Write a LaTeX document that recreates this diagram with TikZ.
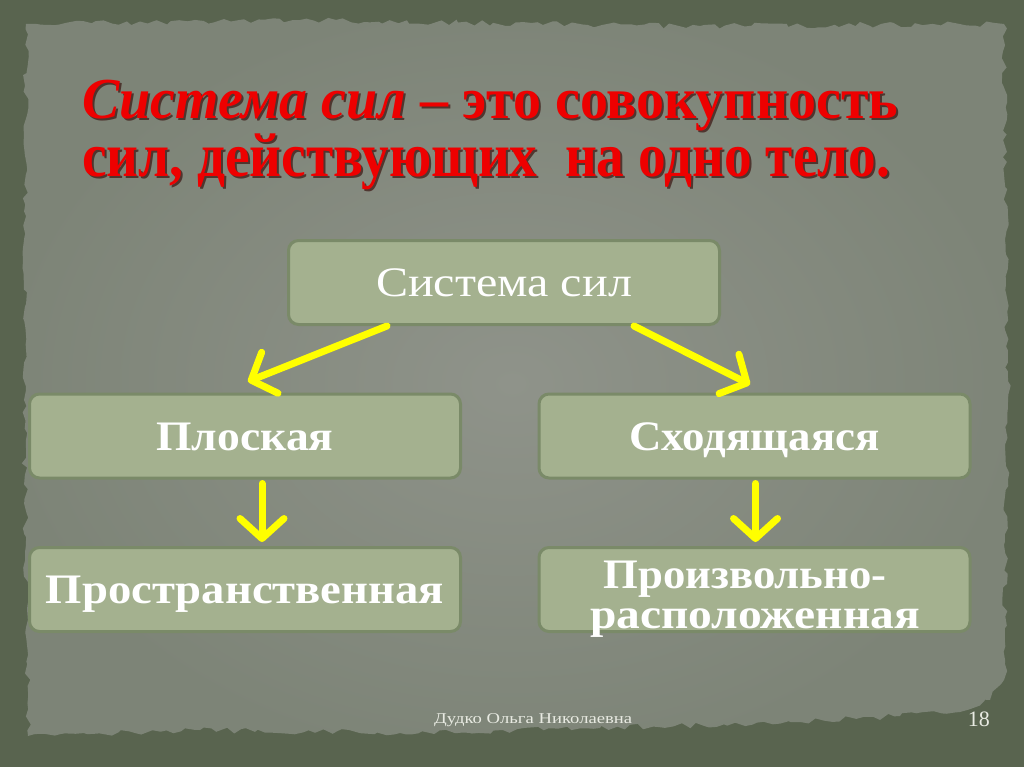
\documentclass[tikz,border=0pt]{standalone}
\usepackage{fontspec}
\usepackage{graphicx}
\setmainfont{Liberation Serif}
\usetikzlibrary{arrows.meta,decorations.pathmorphing}
\definecolor{outerbg}{HTML}{59644F}
\definecolor{paperc}{HTML}{8F938A}
\definecolor{paperd}{HTML}{7D8477}
\definecolor{boxfill}{HTML}{A4B18F}
\definecolor{boxline}{HTML}{7A8A68}
\definecolor{ttl}{HTML}{EE0000}
\definecolor{ttlshadow}{HTML}{3A1410}
\definecolor{arrowy}{HTML}{FFFF00}
\definecolor{foot}{HTML}{E8EAE2}
\newcommand{\fitw}[2]{\resizebox{#1}{\height}{#2}}
\begin{document}
\begin{tikzpicture}[x=1pt,y=-1pt,
  box/.style={rounded corners=10pt, fill=boxfill, draw=boxline, line width=3pt,
    minimum width=431pt, minimum height=84pt, inner sep=0pt, text=white,
    text height=31pt, text depth=3pt},
  boxtext/.style={font=\fontsize{42}{44}\selectfont\bfseries},
  yarrow/.style={draw=arrowy, line width=7pt, line cap=round,
    -{Straight Barb[round, length=20pt, width=44pt, line width=7pt]}},
  titletext/.style={anchor=base west, inner sep=0pt, text=ttl},
  titleshadow/.style={anchor=base west, inner sep=0pt, text=ttlshadow, opacity=0.7}]
\useasboundingbox (0,0) rectangle (1024,767);
\fill[outerbg] (0,0) rectangle (1024,767);
\pgfmathsetseed{11}
\begin{scope}
\clip[decorate, decoration={random steps, segment length=7pt, amplitude=3pt}]
  (26,24) -- (300,20) -- (700,26) -- (1004,24) -- (1008,400) -- (1004,680)
  -- (990,700) -- (960,712) -- (900,716) -- (800,722) -- (600,728)
  -- (400,733) -- (200,730) -- (28,736) -- (24,400) -- cycle;
\shade[inner color=paperc, outer color=paperd] (0,0) rectangle (1024,767);
\end{scope}
% title
\node[titleshadow, font=\fontsize{58}{60}\selectfont\bfseries] (t1s) at (84,121)
  {\fitw{816pt}{\textit{Система сил} – это совокупность}};
\node[titletext, font=\fontsize{58}{60}\selectfont\bfseries] (t1) at (82,119)
  {\fitw{816pt}{\textit{Система сил} – это совокупность}};
\node[titleshadow, font=\fontsize{62}{66}\selectfont\bfseries] (t2s) at (84,179)
  {\fitw{808pt}{сил, действующих~ на одно тело.}};
\node[titletext, font=\fontsize{62}{66}\selectfont\bfseries] (t2) at (82,177)
  {\fitw{808pt}{сил, действующих~ на одно тело.}};
% boxes
\node[box, font=\fontsize{42}{44}\selectfont] (top) at (504,282.5) {\fitw{256pt}{Система сил}};
\node[box, boxtext] (plo) at (245,436) {\fitw{177pt}{Плоская}};
\node[box, boxtext] (sch) at (754.5,436) {\fitw{250pt}{Сходящаяся}};
\node[box, boxtext] (pro) at (245,589.5) {\fitw{398pt}{Пространственная}};
\node[box, boxtext] (arb) at (754.5,589.5) {};
\node[text=white, boxtext, inner sep=0pt, anchor=base] (arb1) at (745,588) {\fitw{283pt}{Произвольно-}};
\node[text=white, boxtext, inner sep=0pt, anchor=base] (arb2) at (755,628) {\fitw{330pt}{расположенная}};
% arrows
\draw[yarrow] ([xshift=-117pt]top.south) -- ([xshift=3pt,yshift=11pt]plo.north);
\draw[yarrow] ([xshift=130pt]top.south) -- ([xshift=-4.5pt,yshift=8pt]sch.north);
\draw[yarrow] ([xshift=17pt,yshift=-4pt]plo.south) -- ([xshift=17pt,yshift=4pt]pro.north);
\draw[yarrow] ([xshift=1pt,yshift=-4pt]sch.south) -- ([xshift=1pt,yshift=4pt]arb.north);
% footer
\node[anchor=base west, inner sep=0pt, text=foot, font=\fontsize{15}{16}\selectfont] (author) at (434,723)
  {\fitw{198pt}{Дудко Ольга Николаевна}};
\node[anchor=base east, inner sep=0pt, text=foot, font=\fontsize{22}{24}\selectfont] (page) at (990,726) {18};
\end{tikzpicture}
\end{document}
